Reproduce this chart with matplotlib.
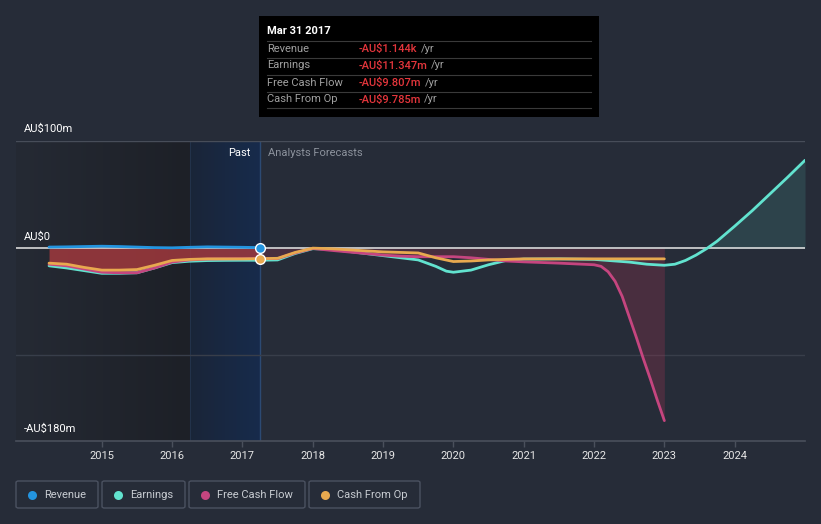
import numpy as np
import matplotlib.pyplot as plt
from matplotlib.colors import LinearSegmentedColormap
from matplotlib.patches import FancyBboxPatch, Rectangle
from matplotlib.lines import Line2D

plt.rcParams['font.family'] = ['Roboto', 'DejaVu Sans']

W, H = 821, 524

# ---- data (AU$ m, decimal years) ----
rev_years = [2014.25, 2014.5, 2014.75, 2015.0, 2015.25, 2015.5, 2015.75, 2016.0,
             2016.25, 2016.5, 2016.75, 2017.0, 2017.25]
rev_vals = [1.0, 1.2, 1.5, 1.8, 1.5, 1.0, 0.5, 0.3, 0.8, 1.2, 1.0, 0.8, 0.5]

earn_years = [2014.25, 2014.5, 2014.75, 2015.0, 2015.25, 2015.5, 2015.75, 2016.0,
              2016.25, 2016.5, 2016.75, 2017.0, 2017.25, 2017.5, 2017.75, 2018.0,
              2018.25, 2018.5, 2018.75, 2019.0, 2019.25, 2019.5, 2019.75, 2019.9,
              2020.0, 2020.25, 2020.5, 2020.75, 2021.0, 2021.5, 2022.0, 2022.5,
              2022.75, 2023.0, 2023.15, 2023.3, 2023.45, 2023.6, 2023.75, 2024.0,
              2024.25, 2024.5, 2024.75, 2025.0]
earn_vals = [-16.5, -18.5, -21.0, -23.5, -23.5, -23.0, -18.5, -13.5,
             -12.2, -11.6, -11.4, -11.3, -11.3, -11.0, -5.0, -0.5,
             -1.0, -3.0, -5.0, -7.0, -9.0, -11.0, -17.0, -21.5,
             -22.5, -20.5, -15.5, -11.5, -10.2, -10.0, -10.5, -13.0,
             -15.0, -16.0, -15.0, -11.5, -6.5, -0.5, 6.5, 20.5,
             35.0, 50.5, 66.0, 82.0]

fcf_years = [2014.25, 2014.5, 2014.75, 2015.0, 2015.25, 2015.5, 2015.75, 2016.0,
             2016.25, 2016.5, 2016.75, 2017.0, 2017.25, 2017.5, 2017.75, 2018.0,
             2018.25, 2018.5, 2018.75, 2019.0, 2019.25, 2019.5, 2019.75, 2020.0,
             2020.25, 2020.5, 2020.75, 2021.0, 2021.5, 2022.0, 2022.1, 2022.2,
             2022.3, 2022.4, 2022.5, 2022.6, 2022.7, 2022.8, 2022.9, 2023.0]
fcf_vals = [-15.0, -16.5, -19.5, -22.5, -23.0, -23.0, -18.5, -13.0,
            -11.0, -10.2, -10.0, -9.9, -9.8, -9.8, -4.5, -0.3,
            -2.0, -3.5, -5.0, -6.5, -7.5, -8.0, -8.0, -8.0,
            -9.0, -10.5, -12.0, -12.8, -14.0, -15.5, -17.0, -22.0,
            -31.0, -45.0, -64.0, -83.0, -103.0, -122.0, -142.0, -161.0]

cfo_years = [2014.25, 2014.5, 2014.75, 2015.0, 2015.25, 2015.5, 2015.75, 2016.0,
             2016.25, 2016.5, 2016.75, 2017.0, 2017.25, 2017.5, 2017.75, 2018.0,
             2018.25, 2018.5, 2018.75, 2019.0, 2019.25, 2019.5, 2019.75, 2020.0,
             2020.25, 2020.5, 2021.0, 2022.0, 2023.0]
cfo_vals = [-14.0, -15.0, -18.0, -20.5, -20.5, -20.0, -16.0, -11.5,
            -10.5, -10.0, -10.0, -10.0, -9.8, -9.5, -4.0, 0.0,
            -0.5, -1.5, -2.5, -3.5, -4.0, -4.5, -9.0, -12.5,
            -12.0, -11.0, -10.0, -10.0, -10.0]

year_ticks = list(range(2015, 2025))
now = 2017.25
past_start = 2016.25

BG = '#262c38'
C_REV = '#2394df'
C_EARN = '#62e3cf'
C_FCF = '#c5457f'
C_CFO = '#e8a94f'

fig = plt.figure(figsize=(W / 100, H / 100), dpi=100, facecolor=BG)
ax = fig.add_axes([16 / W, 83 / H, 789 / W, 300 / H])
ax.set_facecolor('none')

x0, x1 = 2013.78, 2025.0
ymin, ymax = -180, 100

# shaded past regions
cm_dark = LinearSegmentedColormap.from_list('d', ['#252a34', '#1d2027'])
cm_blue = LinearSegmentedColormap.from_list('b', ['#1a2538', '#172b4c'])
grad = np.linspace(0, 1, 256).reshape(1, -1)
ax.imshow(grad, extent=[x0, past_start, ymin, ymax], aspect='auto', cmap=cm_dark, zorder=0)
ax.imshow(grad, extent=[past_start, now, ymin, ymax], aspect='auto', cmap=cm_blue, zorder=0)
ax.axvline(past_start, color='#22324a', lw=0.8, zorder=1)
ax.axvline(now, color='#2c4a73', lw=1.0, zorder=1)

# grid lines
ax.axhline(100, color='#474d59', lw=1, zorder=1)
ax.axhline(-100, color='#383e4a', lw=1, zorder=1)

# fills
earn_x = np.array(earn_years)
earn_y = np.array(earn_vals)
fcf_x = np.array(fcf_years)
fcf_y = np.array(fcf_vals)
pm = earn_x <= now
ax.fill_between(earn_x[pm], 0, earn_y[pm], color='#a83a3e', alpha=0.8, lw=0, zorder=2)
fm = fcf_x >= now
ax.fill_between(fcf_x[fm], 0, fcf_y[fm], color='#b33454', alpha=0.25, lw=0, zorder=2)
em = earn_x >= 2023.0
ax.fill_between(earn_x[em], 0, np.clip(earn_y[em], 0, None), color=C_EARN, alpha=0.13, lw=0, zorder=2)

ax.axhline(0, color='#e8e8e8', lw=1.1, zorder=3)

# lines
lw = 2.0
ax.plot(earn_years, earn_vals, color=C_EARN, lw=lw, zorder=4, solid_capstyle='round')
ax.plot(fcf_years, fcf_vals, color=C_FCF, lw=lw, zorder=5, solid_capstyle='round')
ax.plot(cfo_years, cfo_vals, color=C_CFO, lw=lw, zorder=6, solid_capstyle='round')
ax.plot(rev_years, rev_vals, color=C_REV, lw=lw, zorder=7, solid_capstyle='round')

ax.plot([now], [rev_vals[-1]], 'o', ms=7, color=C_REV, mec='white', mew=1, zorder=9)
ax.plot([now], [cfo_vals[cfo_years.index(now)]], 'o', ms=7, color=C_CFO, mec='white', mew=1, zorder=9)

ax.set_xlim(x0, x1)
ax.set_ylim(ymin, ymax)
for s in ['top', 'left', 'right']:
    ax.spines[s].set_visible(False)
ax.spines['bottom'].set_color('#4a505c')
ax.spines['bottom'].set_linewidth(1.2)
ax.set_yticks([])
ax.set_xticks(year_ticks)
ax.set_xticklabels([str(y) for y in year_ticks])
ax.tick_params(axis='x', colors='#4a505c', length=4, width=1, labelcolor='#e6e6e6',
               labelsize=8, pad=3)

# y labels
lx = 8 / 789
ytr = ax.get_yaxis_transform()
ax.text(lx, 111, 'AU\\$100m', transform=ytr, color='#ffffff', fontsize=8, va='center', ha='left')
ax.text(lx, 10.5, 'AU\\$0', transform=ytr, color='#ffffff', fontsize=8, va='center', ha='left')
ax.text(lx, -169, '-AU\\$180m', transform=ytr, color='#ffffff', fontsize=8, va='center', ha='left')

ax.text(now - 0.13, 88.5, 'Past', color='#ffffff', fontsize=8, ha='right', va='center')
ax.text(now + 0.11, 88.5, 'Analysts Forecasts', color='#8c929c', fontsize=8, ha='left', va='center')


def fx(x):
    return x / W


def fy(y):
    return 1 - y / H


# tooltip
fig.add_artist(Rectangle((fx(259), fy(117)), 340 / W, 101 / H, transform=fig.transFigure,
                         facecolor='#000000', edgecolor='none', zorder=20))
fig.text(fx(267), fy(31), 'Mar 31 2017', color='white', fontsize=8, fontweight='bold',
         va='center', zorder=21)
for yy in [40.5, 57.5, 74.5, 91.5, 108.5]:
    fig.add_artist(Line2D([fx(267), fx(591)], [fy(yy), fy(yy)], transform=fig.transFigure,
                          color='#3a3a3a', lw=0.8, zorder=21))
rows = [('Revenue', '-AU\\$1.144k'), ('Earnings', '-AU\\$11.347m'),
        ('Free Cash Flow', '-AU\\$9.807m'), ('Cash From Op', '-AU\\$9.785m')]
val_texts = []
for i, (lab, val) in enumerate(rows):
    yc = fy(48.5 + 17 * i)
    fig.text(fx(267), yc, lab, color='#a0a0a0', fontsize=8, va='center', zorder=21)
    t = fig.text(fx(359), yc, val, color='#e5363c', fontsize=8, fontweight='medium',
                 va='center', zorder=21)
    val_texts.append((t, yc))

fig.canvas.draw()
rend = fig.canvas.get_renderer()
for t, yc in val_texts:
    bb = t.get_window_extent(renderer=rend)
    fig.text((bb.x1 + 3) / W, yc, '/yr', color='#a0a0a0', fontsize=8, va='center', zorder=21)

# legend boxes
legend = [('Revenue', C_REV, 16, 98), ('Earnings', C_EARN, 102, 185),
          ('Free Cash Flow', C_FCF, 189, 305), ('Cash From Op', C_CFO, 309, 420)]
for lab, col, bx0, bx1 in legend:
    fig.add_artist(FancyBboxPatch((fx(bx0), fy(508)), (bx1 - bx0) / W, 27 / H,
                                  boxstyle='round,pad=0,rounding_size=0.003',
                                  transform=fig.transFigure, facecolor='none',
                                  edgecolor='#4b5261', lw=1))
    fig.add_artist(Line2D([fx(bx0 + 16)], [fy(494.5)], marker='o', ms=6.5, color=col,
                          mec='none', transform=fig.transFigure))
    fig.text(fx(bx0 + 28), fy(494.5), lab, color='#c8ccd2', fontsize=8, va='center')

fig.savefig('out.png', dpi=100, facecolor=BG)
